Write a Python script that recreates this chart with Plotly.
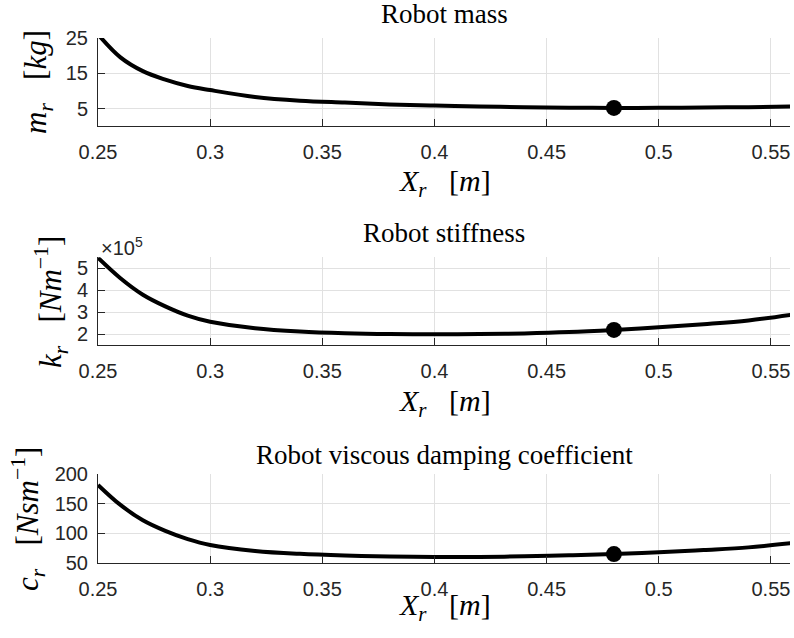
import plotly.graph_objects as go

# Robot arm design sweep over the link length X_r
x_r = [0.25, 0.26, 0.27, 0.28, 0.29, 0.30, 0.32, 0.34, 0.36, 0.38, 0.40,
       0.42, 0.44, 0.46, 0.48, 0.50, 0.52, 0.54, 0.56]
mass_kg = [26.0, 19.5, 15.6, 13.2, 11.4, 10.25, 8.3, 7.25, 6.7, 6.2, 5.85,
           5.6, 5.4, 5.28, 5.2, 5.22, 5.3, 5.42, 5.6]
stiffness_npm = [5.48e5, 4.55e5, 3.8e5, 3.27e5, 2.85e5, 2.57e5, 2.28e5, 2.13e5,
                 2.05e5, 2.01e5, 2.0e5, 2.01e5, 2.04e5, 2.1e5, 2.2e5, 2.32e5,
                 2.46e5, 2.63e5, 2.9e5]
damping_nspm = [182, 148, 122, 104, 90, 80, 70, 65, 62.2, 60.5, 59.8, 59.8,
                60.8, 62.5, 64.7, 67.6, 71.5, 76, 83.5]
x_selected = 0.48

x_ticks = [0.25, 0.3, 0.35, 0.4, 0.45, 0.5, 0.55]
x_ticktext = ["0.25", "0.3", "0.35", "0.4", "0.45", "0.5", "0.55"]
mass_ticks = [5, 15, 25]
stiff_ticks = [2e5, 3e5, 4e5, 5e5]
stiff_ticktext = ["2", "3", "4", "5"]
damp_ticks = [50, 100, 150, 200]

titles = ["Robot mass", "Robot stiffness", "Robot viscous damping coefficient"]

W, H = 794, 638
AX_L, AX_R = 98, 790
panels_px = [(37.9, 126.3), (257.3, 345.3), (474.3, 562.7)]  # top, bottom

INK = "#262626"
GRID = "#e1e1e1"
SANS = "Liberation Sans, Arial, sans-serif"
SERIF = "Liberation Serif, Times New Roman, serif"

sel = x_r.index(x_selected)
series = [mass_kg, stiffness_npm, damping_nspm]

fig = go.Figure()
for i, ys in enumerate(series):
    sfx = "" if i == 0 else str(i + 1)
    fig.add_trace(go.Scatter(x=x_r, y=ys, mode="lines", line=dict(color="black", width=4, shape="spline"),
                             xaxis="x" + sfx, yaxis="y" + sfx, showlegend=False, hoverinfo="skip"))
    fig.add_trace(go.Scatter(x=[x_r[sel]], y=[ys[sel]], mode="markers",
                             marker=dict(color="black", size=16), cliponaxis=False,
                             xaxis="x" + sfx, yaxis="y" + sfx, showlegend=False))

y_ranges = [[0, 25], [1.5e5, 5.5e5], [50, 200]]
y_tickvals = [mass_ticks, stiff_ticks, damp_ticks]
y_ticktexts = [[str(v) for v in mass_ticks], stiff_ticktext, [str(v) for v in damp_ticks]]

layout = dict(width=W, height=H, margin=dict(l=0, r=0, t=0, b=0),
              paper_bgcolor="white", plot_bgcolor="white", showlegend=False)

for i, (top, bot) in enumerate(panels_px):
    sfx = "" if i == 0 else str(i + 1)
    layout["xaxis" + sfx] = dict(
        domain=[AX_L / W, AX_R / W], range=[0.25, 0.5585], anchor="y" + sfx, automargin=False,
        tickvals=x_ticks, ticktext=x_ticktext, ticks="inside", ticklen=7, tickcolor=INK,
        showline=True, linecolor=INK, linewidth=1, showgrid=True, gridcolor=GRID,
        zeroline=False, tickfont=dict(family=SANS, size=20, color=INK), ticklabelstandoff=8)
    layout["yaxis" + sfx] = dict(
        domain=[1 - bot / H, 1 - top / H], range=y_ranges[i], anchor="x" + sfx, automargin=False,
        tickvals=y_tickvals[i], ticktext=y_ticktexts[i], ticks="inside", ticklen=7, tickcolor=INK,
        showline=True, linecolor=INK, linewidth=1, showgrid=True, gridcolor=GRID,
        zeroline=False, tickfont=dict(family=SANS, size=20, color=INK), ticklabelstandoff=5)

ann = []
title_y = [14, 233, 455]
xlabel_y = [183, 403, 607]
for i in range(3):
    ann.append(dict(text=titles[i], x=444 / W, y=1 - title_y[i] / H, xref="paper", yref="paper",
                    xanchor="center", yanchor="middle", showarrow=False,
                    font=dict(family=SERIF, size=27, color="black")))
    ann.append(dict(text="<i>X</i><sub><i>r</i></sub>&nbsp;&nbsp;&nbsp;[<i>m</i>]", x=445 / W,
                    y=1 - xlabel_y[i] / H, xref="paper", yref="paper", xanchor="center",
                    yanchor="middle", showarrow=False,
                    font=dict(family=SERIF, size=30, color="black")))

ylabels = ["<i>m</i><sub><i>r</i></sub>&nbsp;&nbsp;&nbsp;[<i>kg</i>]",
           "<i>k</i><sub><i>r</i></sub>&nbsp;&nbsp;&nbsp;[<i>Nm</i><sup>&#8722;1</sup>]",
           "<i>c</i><sub><i>r</i></sub>&nbsp;&nbsp;&nbsp;[<i>Nsm</i><sup>&#8722;1</sup>]"]
ylabel_pos = [(38, 82), (51, 302), (28, 519)]
for lab, (px, py) in zip(ylabels, ylabel_pos):
    ann.append(dict(text=lab, x=px / W, y=1 - py / H, xref="paper", yref="paper",
                    xanchor="center", yanchor="middle", textangle=-90, showarrow=False,
                    font=dict(family=SERIF, size=31, color="black")))

ann.append(dict(text="\u00d710<sup>5</sup>", x=99 / W, y=1 - 246 / H, xref="paper", yref="paper",
                xanchor="left", yanchor="middle", showarrow=False,
                font=dict(family=SANS, size=20, color=INK)))

layout["annotations"] = ann
fig.update_layout(**layout)
fig.write_html("out.html")
